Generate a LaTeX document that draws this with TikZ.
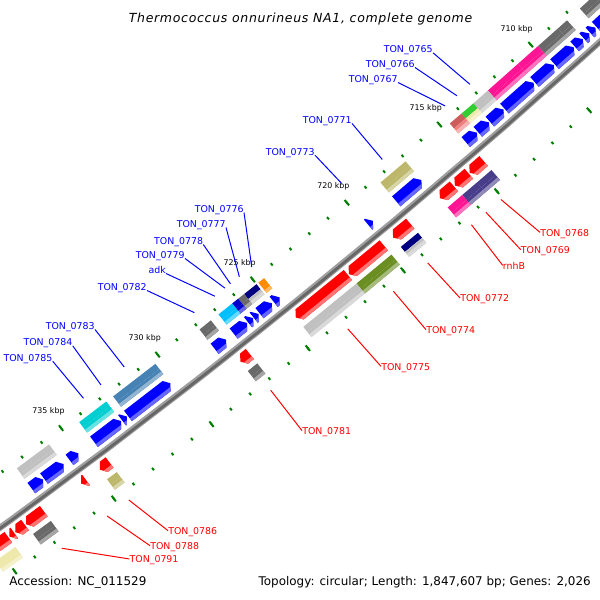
\documentclass[tikz,border=0pt]{standalone}
\usepackage{fontspec}
\setmainfont{DejaVu Sans}
\newfontfamily\titlefont{DejaVu Sans}[LetterSpace=5.5]

\definecolor{cdgray}{HTML}{696969}
\definecolor{csilver}{HTML}{C0C0C0}
\definecolor{cpink}{HTML}{FF1493}
\definecolor{clime}{HTML}{32CD32}
\definecolor{cpale}{HTML}{EEE8AA}
\definecolor{cired}{HTML}{CD5C5C}
\definecolor{csalmon}{HTML}{F08080}
\definecolor{ckhaki}{HTML}{BDB76B}
\definecolor{corange}{HTML}{FF8C00}
\definecolor{cnavy}{HTML}{000080}
\definecolor{cmblue}{HTML}{0000CD}
\definecolor{csky}{HTML}{00BFFF}
\definecolor{csteel}{HTML}{4682B4}
\definecolor{cturq}{HTML}{00CED1}
\definecolor{cslate}{HTML}{483D8B}
\definecolor{colive}{HTML}{6B8E23}
\definecolor{ctick}{HTML}{008000}

% angle of a genome position (kbp) around the map centre
\newcommand{\kang}[1]{(-50.2895-((#1)-720)*0.1948465)}

% inner strand arrow (points back)
\newcommand{\icds}[2]{%
  \pgfmathsetmacro\ktl{min(0.2,#2-#1)}%
  \pgfmathsetmacro\aA{\kang{#1}}%
  \pgfmathsetmacro\aB{\kang{#1+\ktl}}%
  \pgfmathsetmacro\aS{\kang{#1+0.46*\ktl}}%
  \pgfmathsetmacro\aE{\kang{#2}}%
  \fill[blue] (\aA:7164.5) -- (\aB:7171) -- (\aE:7171) -- (\aE:7158) -- (\aB:7158) -- cycle;
  \fill[blue!60!white] (\aS:7167.5) -- (\aE:7167.5) -- (\aE:7171) -- (\aB:7171) -- cycle;
}
% outer strand arrow (points on)
\newcommand{\ocds}[2]{%
  \pgfmathsetmacro\ktl{min(0.2,#2-#1)}%
  \pgfmathsetmacro\aA{\kang{#1}}%
  \pgfmathsetmacro\aB{\kang{#2-\ktl}}%
  \pgfmathsetmacro\aS{\kang{#2-0.46*\ktl}}%
  \pgfmathsetmacro\aE{\kang{#2}}%
  \fill[red] (\aA:7184) -- (\aB:7184) -- (\aE:7190.5) -- (\aB:7197) -- (\aA:7197) -- cycle;
  \fill[red!55!white] (\aA:7193.5) -- (\aS:7193.5) -- (\aB:7197) -- (\aA:7197) -- cycle;
}
% COG block: start, end, inner radius, colour 1, colour 2
\newcommand{\cogbox}[5]{%
  \pgfmathsetmacro\aA{\kang{#1}}%
  \pgfmathsetmacro\aE{\kang{#2}}%
  \pgfmathsetmacro\rM{#3+6.5}%
  \pgfmathsetmacro\rS{#3+9.5}%
  \pgfmathsetmacro\rO{#3+13}%
  \fill[fill=#4] (\aA:#3) -- (\aE:#3) -- (\aE:\rM) -- (\aA:\rM) -- cycle;
  \fill[fill=#5] (\aA:\rM) -- (\aE:\rM) -- (\aE:\rO) -- (\aA:\rO) -- cycle;
  \fill[fill=#5!60!white] (\aA:\rS) -- (\aE:\rS) -- (\aE:\rO) -- (\aA:\rO) -- cycle;
}

\begin{document}
\begin{tikzpicture}[x=0.025cm,y=0.025cm,
    blab/.style={font={\fontsize{6.7}{8}\selectfont}, text=blue, inner sep=0pt, anchor=base east},
    rlab/.style={font={\fontsize{6.7}{8}\selectfont}, text=red, inner sep=0pt, anchor=base west},
    tklab/.style={font={\fontsize{5.6}{7}\selectfont}, inner sep=0pt},
    gtick/.style={ctick, line width=1.4pt},
    bline/.style={blue, line width=0.7pt},
    rline/.style={red, line width=0.7pt}]
  \useasboundingbox (0,0) rectangle (600,600);
  \fill[white] (0,0) rectangle (600,600);

  \begin{scope}
    \clip (0,0) rectangle (600,600);
    \begin{scope}[shift={(-4211,5885)}]
      % backbone
      \draw[line width=4.4pt, color=gray!75, line join=round] plot[domain=704:743, samples=40] ({\kang{\x}}:7178);
      \draw[line width=2pt, color=black!60, line join=round] plot[domain=704:743, samples=40] ({\kang{\x}}:7178.6);

      % ticks
      \foreach \k in {705,...,742}{
        \pgfmathsetmacro\ka{\kang{\k}}
        \draw[gtick] (\ka:7132.5) -- (\ka:7135.5);
        \draw[gtick] (\ka:7220.5) -- (\ka:7223.5);
      }
      \foreach \k in {705,710,...,740}{
        \pgfmathsetmacro\ka{\kang{\k}}
        \draw[gtick] (\ka:7130.5) -- (\ka:7137.5);
        \draw[gtick] (\ka:7218.5) -- (\ka:7225.5);
      }
      \foreach \k in {710,715,...,735}{
        \pgfmathsetmacro\ka{\kang{\k}}
        \node[tklab] (t\k) at (\ka:7113) {\k\ kbp};
      }

      % inner strand
      \foreach \s/\e in {706.4/707.5, 707.55/707.85, 707.9/708.2, 708.25/708.7,
          708.75/709.8, 709.85/710.9, 710.95/712.55, 712.6/713.35, 713.4/714.0,
          714.05/714.65, 717.05/718.4, 719.65/719.9, 724.6/724.9, 725.0/725.65,
          725.7/725.95, 725.98/726.25, 726.3/727.0, 727.4/728.0, 730.3/732.5,
          732.55/732.8, 732.85/734.25, 735.05/735.5, 735.8/736.8, 736.85/737.45}
        {\icds{\s}{\e}}
      \foreach \s/\e/\ca/\cb in {706.4/707.5/cdgray/cdgray, 708.22/708.72/cdgray/cdgray,
          708.72/709.82/cdgray/cdgray, 709.82/710.92/cpink/cpink, 710.92/712.57/cpink/cpink,
          712.57/713.37/csilver/csilver, 713.37/714.02/clime/cpale, 714.02/714.65/cired/csalmon,
          717.05/718.4/ckhaki/ckhaki, 724.6/724.9/corange/corange, 725.0/725.65/cnavy/csilver,
          725.65/725.96/cdgray/cdgray, 725.96/726.28/cmblue/cmblue, 726.28/727.0/csky/csky,
          727.4/728.0/cdgray/cdgray, 730.3/732.5/csteel/csteel, 732.85/734.25/cturq/cturq,
          735.8/736.82/csilver/csilver, 736.82/737.45/csilver/csilver}
        {\cogbox{\s}{\e}{7140}{\ca}{\cb}}

      % outer strand
      \foreach \s/\e in {714.6/715.35, 715.4/716.15, 716.2/716.95, 718.55/719.45,
          719.95/721.8, 721.85/724.6, 727.0/727.5, 734.25/734.75, 735.45/735.7,
          737.6/738.5, 738.55/739.05, 739.1/739.35, 739.4/740.4}
        {\ocds{\s}{\e}}
      \foreach \s/\e/\ca/\cb in {714.6/715.38/cslate/cslate, 715.38/716.17/cslate/cslate,
          716.17/716.95/cpink/cpink, 718.55/719.45/cnavy/csilver, 719.95/721.8/colive/colive,
          721.8/724.6/csilver/csilver, 727.0/727.5/cdgray/cdgray, 734.25/734.75/ckhaki/ckhaki,
          737.6/738.5/cdgray/cdgray, 739.4/740.4/cpale/cpale}
        {\cogbox{\s}{\e}{7202.5}{\ca}{\cb}}

      % label anchors on the features
      \coordinate (p0765) at ({\kang{712.96}}:7123.5);
      \coordinate (p0766) at ({\kang{713.68}}:7123.5);
      \coordinate (p0767) at ({\kang{714.32}}:7123.5);
      \coordinate (p0771) at ({\kang{717.73}}:7123.5);
      \coordinate (p0773) at ({\kang{719.65}}:7116);
      \coordinate (p0776) at ({\kang{724.71}}:7123.5);
      \coordinate (p0777) at ({\kang{725.36}}:7123.5);
      \coordinate (p0778) at ({\kang{725.83}}:7123.5);
      \coordinate (p0779) at ({\kang{726.12}}:7123.5);
      \coordinate (padk) at ({\kang{726.65}}:7123.5);
      \coordinate (p0782) at ({\kang{727.74}}:7123.5);
      \coordinate (p0783) at ({\kang{731.4}}:7123.5);
      \coordinate (p0784) at ({\kang{732.61}}:7123.5);
      \coordinate (p0785) at ({\kang{733.52}}:7123.5);
      \coordinate (p0768) at ({\kang{715.09}}:7231);
      \coordinate (p0769) at ({\kang{715.89}}:7231);
      \coordinate (prnhB) at ({\kang{716.67}}:7231);
      \coordinate (p0772) at ({\kang{719.03}}:7232);
      \coordinate (p0774) at ({\kang{720.84}}:7232);
      \coordinate (p0775) at ({\kang{723.24}}:7232);
      \coordinate (p0781) at ({\kang{727.25}}:7232);
      \coordinate (p0786) at ({\kang{734.54}}:7232);
      \coordinate (p0788) at ({\kang{735.64}}:7232);
      \coordinate (p0791) at ({\kang{737.9}}:7231);
    \end{scope}
  \end{scope}

  % inner labels
  \node[blab] (n0765) at (433,547.2) {TON\_0765};
  \node[blab] (n0766) at (415,532.5) {TON\_0766};
  \node[blab] (n0767) at (398,517.5) {TON\_0767};
  \node[blab] (n0771) at (352,476.5) {TON\_0771};
  \node[blab] (n0773) at (315,444.8) {TON\_0773};
  \node[blab] (n0776) at (244,387.5) {TON\_0776};
  \node[blab] (n0777) at (226,372.5) {TON\_0777};
  \node[blab] (n0778) at (203.3,355.5) {TON\_0778};
  \node[blab] (n0779) at (185,341.5) {TON\_0779};
  \node[blab] (nadk) at (166,326.5) {adk};
  \node[blab] (n0782) at (147,309.5) {TON\_0782};
  \node[blab] (n0783) at (95,270.5) {TON\_0783};
  \node[blab] (n0784) at (72.7,254.2) {TON\_0784};
  \node[blab] (n0785) at (52.7,238.8) {TON\_0785};
  \foreach \n in {0765,0766,0767,0771,0773,0776,0777,0778,0779,adk,0782,0783,0784,0785}
    \draw[bline] (n\n.base east) -- (p\n);

  % outer labels
  \node[rlab] (n0768) at (540,363.8) {TON\_0768};
  \node[rlab] (n0769) at (520.7,346.5) {TON\_0769};
  \node[rlab] (nrnhB) at (502.7,330.8) {rnhB};
  \node[rlab] (n0772) at (460,298.2) {TON\_0772};
  \node[rlab] (n0774) at (426,266.5) {TON\_0774};
  \node[rlab] (n0775) at (381,229.8) {TON\_0775};
  \node[rlab] (n0781) at (302,165.5) {TON\_0781};
  \node[rlab] (n0786) at (168,65.5) {TON\_0786};
  \node[rlab] (n0788) at (150,50.5) {TON\_0788};
  \node[rlab] (n0791) at (129.3,37.2) {TON\_0791};
  \foreach \n in {0768,0769,rnhB,0772,0774,0775,0781,0786,0788,0791}
    \draw[rline] (p\n) -- (n\n.mid west);

  % title and footer
  \node[font={\titlefont\fontsize{8.9}{10}\selectfont\itshape}, anchor=base, inner sep=0pt]
    (title) at (300.5,577.5) {Thermococcus onnurineus NA1, complete genome};
  \node[font={\fontsize{8.5}{10}\selectfont}, anchor=base west, inner sep=0pt]
    (acc) at (9,14.5) {Accession: NC\_011529};
  \node[font={\fontsize{8.5}{10}\selectfont}, anchor=base east, inner sep=0pt]
    (topo) at (591,14.5) {Topology: circular; Length: 1,847,607 bp; Genes: 2,026};
\end{tikzpicture}
\end{document}
